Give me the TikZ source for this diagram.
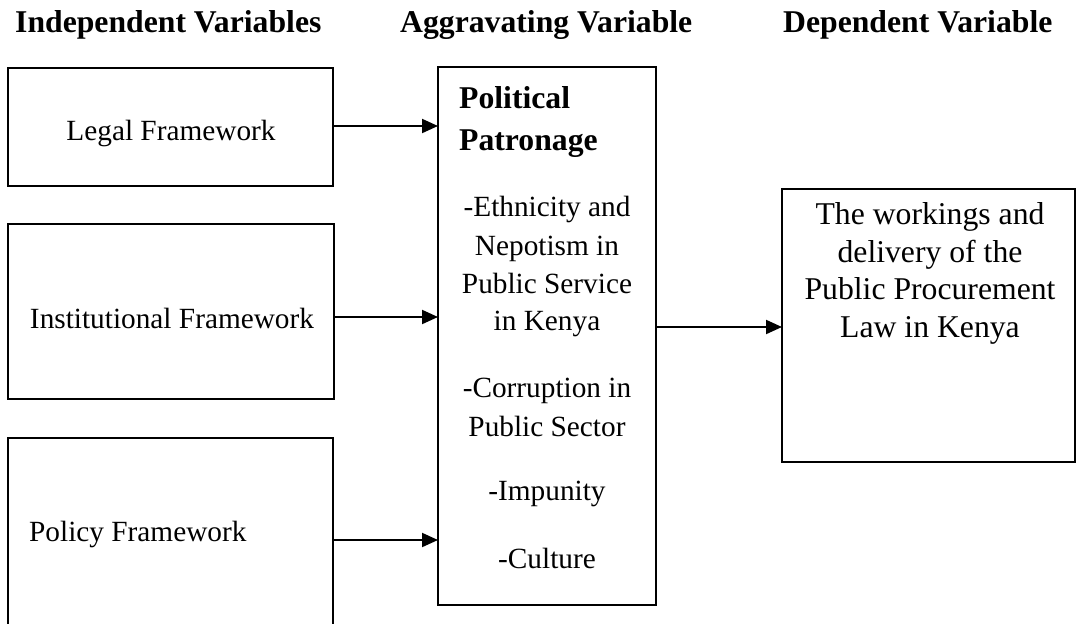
\documentclass[tikz,border=0pt]{standalone}
\usepackage{fontspec}
\setmainfont{Liberation Serif}
\usetikzlibrary{arrows.meta}
\begin{document}
\begin{tikzpicture}[x=1pt,y=-1pt,
  thinbox/.style={draw, line width=1.3pt, inner sep=0pt, outer sep=0pt},
  thickbox/.style={draw, line width=2.2pt, inner sep=0pt, outer sep=0pt},
  arr/.style={line width=2pt, -{Triangle[length=16pt,width=14pt]}},
  body/.style={font=\fontsize{29.3}{35}\selectfont, anchor=base, inner sep=0pt},
  bigtxt/.style={font=\fontsize{31.7}{38}\selectfont, anchor=base, inner sep=0pt},
  boldtxt/.style={font=\fontsize{31.7}{38}\selectfont\bfseries, anchor=base west, inner sep=0pt},
  head/.style={font=\fontsize{31.7}{38}\selectfont\bfseries, anchor=base west, inner sep=0pt}]
\useasboundingbox (0,0) rectangle (1080,624);
\clip (0,0) rectangle (1080,624);

% headers
\node[head] (h1) at (15,32) {Independent Variables};
\node[head] (h2) at (400,32) {Aggravating Variable};
\node[head] (h3) at (783,32) {Dependent Variable};

% boxes
\node[thinbox, minimum width=325pt, minimum height=118pt] (legal) at (170.5,127) {};
\node[thinbox, minimum width=326pt, minimum height=175pt] (inst) at (171,311.5) {};
\node[thinbox, minimum width=325pt, minimum height=210pt] (policy) at (170.5,543) {};
\node[thickbox, minimum width=218pt, minimum height=538pt] (mid) at (547,336) {};
\node[thickbox, minimum width=293pt, minimum height=273pt] (dep) at (928.5,325.5) {};

% left texts
\node[body] (tlegal) at (171,140) {Legal Framework};
\node[body] (tinst) at (172,328) {Institutional Framework};
\node[body, anchor=base west] (tpol) at (29,541) {Policy Framework};

% middle texts
\node[boldtxt] (m1) at (459,108) {Political};
\node[boldtxt] (m2) at (459,150) {Patronage};
\node[body] (m3) at (547,216) {-Ethnicity and};
\node[body] (m4) at (547,255) {Nepotism in};
\node[body] (m5) at (547,293) {Public Service};
\node[body] (m6) at (547,330) {in Kenya};
\node[body] (m7) at (547,397) {-Corruption in};
\node[body] (m8) at (547,436) {Public Sector};
\node[body] (m9) at (547,500) {-Impunity};
\node[body] (m10) at (547,568) {-Culture};

% right texts
\node[bigtxt] (d1) at (930,224) {The workings and};
\node[bigtxt] (d2) at (930,262) {delivery of the};
\node[bigtxt] (d3) at (930,299) {Public Procurement};
\node[bigtxt] (d4) at (930,337) {Law in Kenya};

% connectors
\coordinate (la) at ([yshift=1pt]legal.east);
\coordinate (ia) at ([yshift=-5.5pt]inst.east);
\coordinate (pa) at ([yshift=3pt]policy.east);
\coordinate (ma) at ([yshift=9pt]mid.east);
\draw[arr] (la) -- (la -| mid.west);
\draw[arr] (ia) -- (ia -| mid.west);
\draw[arr] (pa) -- (pa -| mid.west);
\draw[arr] (ma) -- (ma -| dep.west);
\end{tikzpicture}
\end{document}
